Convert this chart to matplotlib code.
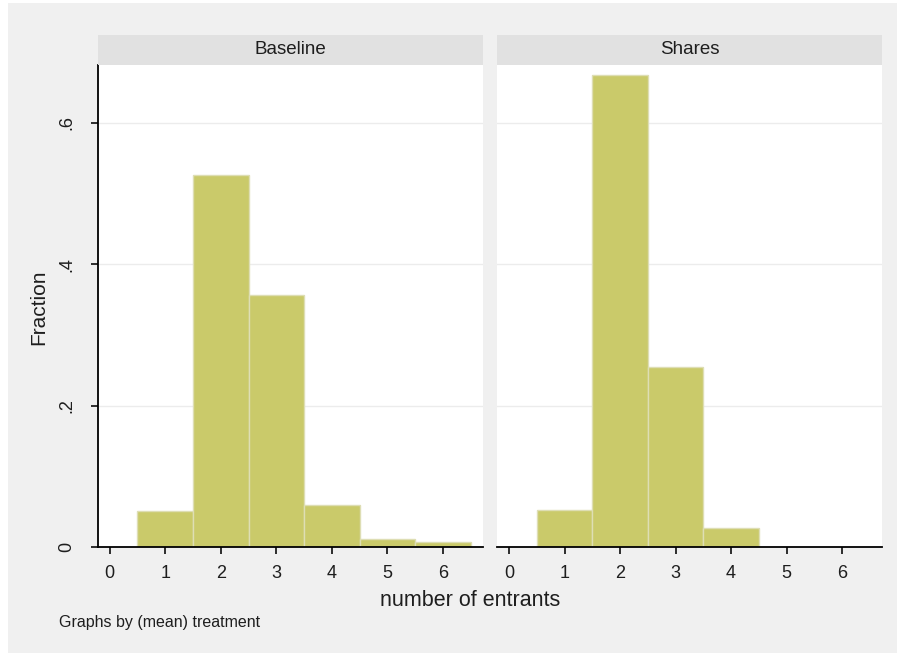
import matplotlib
matplotlib.use("Agg")
import matplotlib.pyplot as plt
from matplotlib.patches import Rectangle

plt.rcParams['font.family'] = ['Liberation Sans', 'DejaVu Sans']

# histogram data (fraction of groups by number of entrants)
entrants = [1, 2, 3, 4, 5, 6]
baseline = [0.051, 0.526, 0.356, 0.059, 0.012, 0.007]
shares = [0.053, 0.668, 0.255, 0.027, 0.0, 0.0]
panel_titles = ["Baseline", "Shares"]
yticks = [0, 0.2, 0.4, 0.6]
ytick_labels = ["0", ".2", ".4", ".6"]
xticks = [0, 1, 2, 3, 4, 5, 6]

W, H = 899, 655
bar_color = "#caca6a"
bar_edge = "#dedeb4"
text_color = "#1e1e1e"

fig = plt.figure(figsize=(W / 100, H / 100), dpi=100, facecolor="white")
# gray graph region
fig.patches.append(Rectangle((8 / W, 2 / H), 889 / W, 650 / H, transform=fig.transFigure,
                             facecolor="#f0f0f0", edgecolor="none", zorder=-5))


def px(x0, y0, x1, y1):
    # pixel box (top-left origin) -> figure fraction rect
    return [x0 / W, 1 - y1 / H, (x1 - x0) / W, (y1 - y0) / H]


panels = [(97.5, 483), (497, 882)]
data = [baseline, shares]
axes = []
for k, (x0, x1) in enumerate(panels):
    ax = fig.add_axes(px(x0, 65, x1, 547))
    ax.set_facecolor("white")
    vals = data[k]
    xs = [e for e, v in zip(entrants, vals) if v > 0]
    vs = [v for v in vals if v > 0]
    ax.bar(xs, vs, width=1, color=bar_color, edgecolor=bar_edge, linewidth=1, zorder=2)
    ax.set_xlim(-0.22, 6.72)
    ax.set_ylim(0, 0.682)
    for y in yticks[1:]:
        ax.axhline(y, color="#ececec", linewidth=1, zorder=1)
    for s in ["top", "right"]:
        ax.spines[s].set_visible(False)
    ax.spines["bottom"].set_linewidth(1.3)
    ax.set_xticks(xticks)
    ax.set_xticklabels([str(t) for t in xticks])
    ax.tick_params(axis="x", length=5, width=1.3, pad=8, labelsize=13, colors=text_color)
    if k == 0:
        ax.spines["left"].set_linewidth(1.3)
        ax.set_yticks(yticks)
        ax.set_yticklabels(ytick_labels, rotation=90, va="center")
        ax.tick_params(axis="y", length=5, width=1.3, pad=11, labelsize=13, colors=text_color)
    else:
        ax.spines["left"].set_visible(False)
        ax.set_yticks([])
    # strip header
    hax = fig.add_axes(px(x0, 35, x1, 65))
    hax.set_facecolor("#e1e1e1")
    hax.set_xticks([])
    hax.set_yticks([])
    for s in hax.spines.values():
        s.set_visible(False)
    hax.text(0.5, 0.5, panel_titles[k], ha="center", va="center", fontsize=13.5,
             color=text_color, transform=hax.transAxes)
    axes.append(ax)

fig.text(39 / W, 1 - 307 / H, "Fraction", rotation=90, ha="center", va="center",
         fontsize=15, color=text_color)
fig.text(470 / W, 1 - 600 / H, "number of entrants", ha="center", va="center",
         fontsize=15.5, color=text_color)
fig.text(59 / W, 1 - 623 / H, "Graphs by (mean) treatment", ha="left", va="center",
         fontsize=11.5, color=text_color)

fig.savefig("out.png", dpi=100, facecolor="white")
